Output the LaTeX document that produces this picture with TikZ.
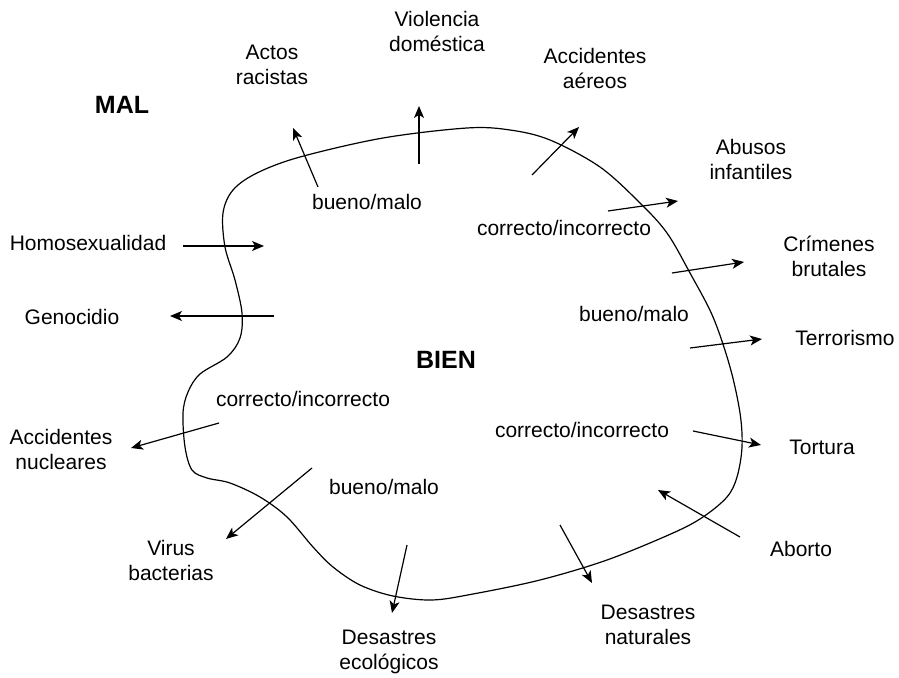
\documentclass[tikz,border=0pt]{standalone}
\usepackage{fontspec}
\setmainfont{Liberation Sans}
\usetikzlibrary{arrows.meta}

\begin{document}
\begin{tikzpicture}[x=0.5pt,y=-0.5pt,line width=0.6pt,
    >={Stealth[length=6pt,width=5pt,inset=1.6pt]},
    lbl/.style={align=center,inner sep=0pt,font=\fontsize{10.5}{12.5}\selectfont},
    big/.style={inner sep=0pt,font=\fontsize{12.5}{15}\selectfont\bfseries}]
  \useasboundingbox (0,0) rectangle (899,678);
  % Contorno
  \draw plot[smooth cycle,tension=0.55] coordinates {
    (383,138) (467,128) (510,130) (550,140) (600,167) (640,203) (667,233)
    (690,273) (713,317) (730,367) (740,413) (742,447) (737,477) (727,497)
    (703,517) (673,533) (607,560) (540,580) (473,594) (432,600) (393,596)
    (360,585) (333,567) (313,547) (287,517) (260,497) (230,483) (207,478)
    (192,470) (185,447) (183,413) (188,392) (200,374) (227,357) (240,338)
    (242,313) (235,280) (225,247) (223,213) (233,190) (257,173) (300,157)};
  \node[big] (mal) at (122,105) {MAL};
  \node[big] (bien) at (446,360) {BIEN};
  \node[lbl] (bm1) at (367,202) {bueno/malo};
  \node[lbl] (ci1) at (564,228) {correcto/incorrecto};
  \node[lbl] (bm2) at (634,314) {bueno/malo};
  \node[lbl] (ci2) at (303,399) {correcto/incorrecto};
  \node[lbl] (ci3) at (582,430) {correcto/incorrecto};
  \node[lbl] (bm3) at (384,487) {bueno/malo};
  % Fuera
  \node[lbl] (racistas) at (272,65) {Actos\\racistas};
  \node[lbl] (violencia) at (437,31) {Violencia\\doméstica};
  \node[lbl] (aereos) at (595,68) {Accidentes\\aéreos};
  \node[lbl] (abusos) at (751,159) {Abusos\\infantiles};
  \node[lbl] (crimenes) at (829,256) {Crímenes\\brutales};
  \node[lbl] (terrorismo) at (845,338) {Terrorismo};
  \node[lbl] (tortura) at (822,447) {Tortura};
  \node[lbl] (aborto) at (801,549) {Aborto};
  \node[lbl] (naturales) at (648,625) {Desastres\\naturales};
  \node[lbl] (ecologicos) at (389,652) {Desastres\\ecológicos};
  \node[lbl] (virus) at (171,560) {Virus\\bacterias};
  \node[lbl] (nucleares) at (61,449) {Accidentes\\nucleares};
  \node[lbl] (genocidio) at (72,317) {Genocidio};
  \node[lbl] (homo) at (88,243) {Homosexualidad};
  % Flechas
  \coordinate (racistas-a) at (318,187);  \coordinate (racistas-b) at (293,128);
  \coordinate (violencia-a) at (419,164); \coordinate (violencia-b) at (419,106);
  \coordinate (aereos-a) at (532,175);    \coordinate (aereos-b) at (579,127);
  \coordinate (abusos-a) at (608,211);    \coordinate (abusos-b) at (678,201);
  \coordinate (crimenes-a) at (672,273);  \coordinate (crimenes-b) at (744,262);
  \coordinate (terror-a) at (690,348);    \coordinate (terror-b) at (762,339);
  \coordinate (tortura-a) at (693,431);   \coordinate (tortura-b) at (761,445);
  \coordinate (aborto-a) at (740,537);    \coordinate (aborto-b) at (658,490);
  \coordinate (natur-a) at (560,525);     \coordinate (natur-b) at (592,583);
  \coordinate (ecolog-a) at (407,545);    \coordinate (ecolog-b) at (392,613);
  \coordinate (virus-a) at (312,468);     \coordinate (virus-b) at (226,539);
  \coordinate (nucl-a) at (219,423);      \coordinate (nucl-b) at (131,448);
  \coordinate (geno-a) at (274,316);      \coordinate (geno-b) at (170,316);
  \coordinate (homo-a) at (183,246);      \coordinate (homo-b) at (264,246);
  \draw[->] (racistas-a) -- (racistas-b);
  \draw[->] (violencia-a) -- (violencia-b);
  \draw[->] (aereos-a) -- (aereos-b);
  \draw[->] (abusos-a) -- (abusos-b);
  \draw[->] (crimenes-a) -- (crimenes-b);
  \draw[->] (terror-a) -- (terror-b);
  \draw[->] (tortura-a) -- (tortura-b);
  \draw[->] (aborto-a) -- (aborto-b);
  \draw[->] (natur-a) -- (natur-b);
  \draw[->] (ecolog-a) -- (ecolog-b);
  \draw[->] (virus-a) -- (virus-b);
  \draw[->] (nucl-a) -- (nucl-b);
  \draw[->] (geno-a) -- (geno-b);
  \draw[->] (homo-a) -- (homo-b);
\end{tikzpicture}
\end{document}
